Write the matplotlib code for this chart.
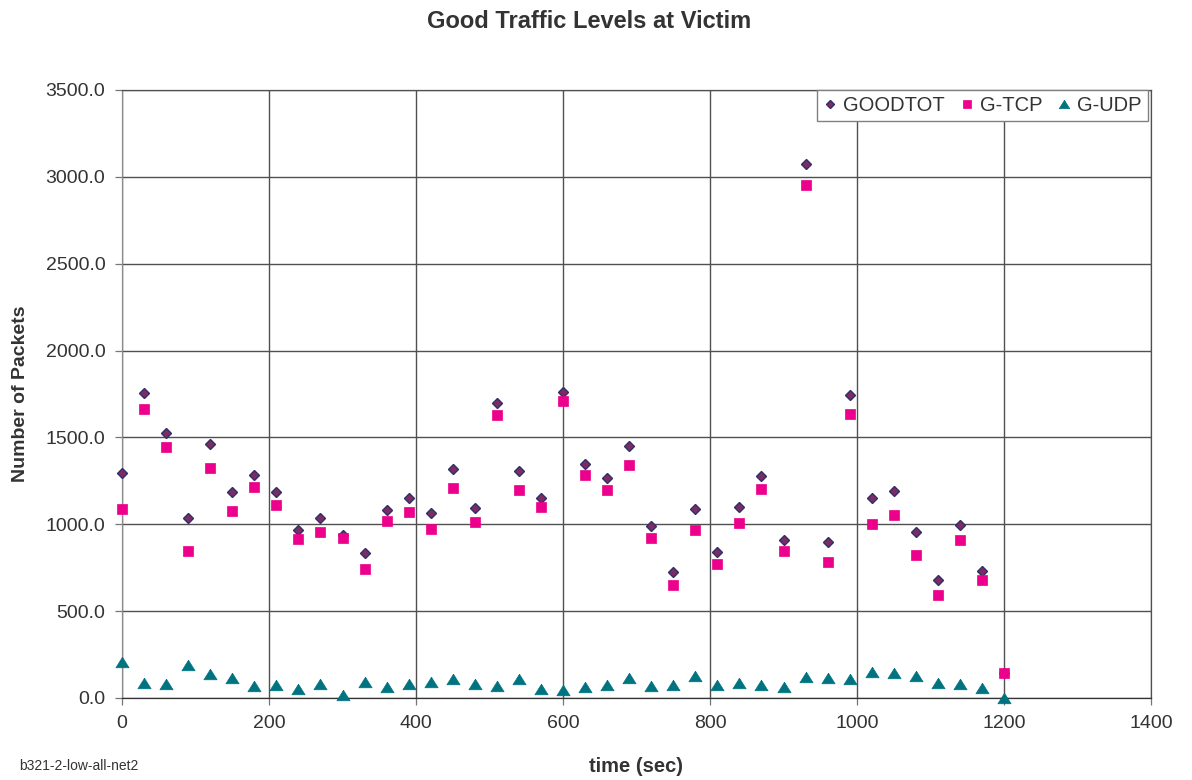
import matplotlib
matplotlib.use("Agg")
import matplotlib.pyplot as plt

plt.rcParams['font.family'] = ['Liberation Sans', 'DejaVu Sans']

# sample times (sec)
time_sec = [0, 30, 60, 90, 120, 150, 180, 210, 240, 270, 300, 330, 360, 390,
            420, 450, 480, 510, 540, 570, 600, 630, 660, 690, 720, 750, 780,
            810, 840, 870, 900, 930, 960, 990, 1020, 1050, 1080, 1110, 1140,
            1170, 1200]

goodtot = [1297, 1753, 1523, 1034, 1464, 1188, 1282, 1188, 967, 1038, 937,
           837, 1084, 1151, 1067, 1320, 1094, 1699, 1308, 1149, 1759, 1347,
           1268, 1450, 989, 726, 1090, 843, 1098, 1278, 910, 3072, 900, 1743,
           1151, 1194, 955, 681, 994, 732, 143]

g_tcp = [1090, 1665, 1443, 847, 1326, 1075, 1215, 1113, 914, 954, 921, 743,
         1021, 1069, 975, 1211, 1011, 1630, 1199, 1100, 1711, 1284, 1195, 1343,
         923, 651, 969, 772, 1010, 1205, 849, 2951, 785, 1632, 1000, 1051, 826,
         591, 911, 677, 143]

g_udp = [207, 86, 82, 190, 138, 115, 67, 75, 54, 82, 15, 94, 63, 82, 92, 111,
         82, 71, 109, 54, 48, 65, 75, 113, 67, 77, 125, 73, 88, 73, 62, 121,
         115, 109, 149, 143, 128, 87, 81, 55, 0]

x_ticks = [0, 200, 400, 600, 800, 1000, 1200, 1400]
y_ticks = [0, 500, 1000, 1500, 2000, 2500, 3000, 3500]

text_col = '#333333'
grid_col = '#505050'

fig = plt.figure(figsize=(11.92, 7.8), dpi=100)
ax = fig.add_axes([122 / 1192, 1 - 698 / 780, 1029 / 1192, 608 / 780])

# flattened triangle like the spreadsheet marker
tri = [(0, 0.8), (-1, -0.8), (1, -0.8), (0, 0.8)]

ax.plot(time_sec, goodtot, linestyle='none', marker='D', ms=5.2,
        mfc='#7b2d62', mec='#2f2f6b', mew=1.0, label='GOODTOT',
        clip_on=False, zorder=3)
ax.plot(time_sec, g_tcp, linestyle='none', marker='s', ms=7,
        mfc='#ec008c', mec='#ec008c', mew=0.5, label='G-TCP',
        clip_on=False, zorder=4)
ax.plot(time_sec, g_udp, linestyle='none', marker=tri, ms=9.5,
        mfc='#007380', mec='#007380', mew=0.5, label='G-UDP',
        clip_on=False, zorder=5)

ax.set_xlim(0, 1400)
ax.set_ylim(0, 3500)
ax.set_xticks(x_ticks)
ax.set_yticks(y_ticks)
ax.set_yticklabels([f"{v:.1f}" for v in y_ticks])
ax.grid(True, color=grid_col, linewidth=1.0)
ax.set_axisbelow(True)

ax.tick_params(axis='both', direction='out', length=5, width=0.9,
               colors='#777777', labelcolor=text_col, labelsize=14, pad=7)
ax.spines['left'].set_color('#8c8c8c')
ax.spines['bottom'].set_color('#333333')
ax.spines['top'].set_color(grid_col)
ax.spines['right'].set_color(grid_col)
for sp in ax.spines.values():
    sp.set_linewidth(0.9)

leg = ax.legend(loc='upper right', bbox_to_anchor=(0.997, 1.0), ncol=3,
                fontsize=14.5, frameon=True, fancybox=False, framealpha=1,
                edgecolor='#808080', borderaxespad=0, borderpad=0.3,
                handlelength=0.6, handletextpad=0.35, columnspacing=0.8,
                markerscale=0.8)
leg.get_frame().set_linewidth(1.0)
for t in leg.get_texts():
    t.set_color(text_col)

fig.text(589 / 1192, 1 - 21 / 780, 'Good Traffic Levels at Victim',
         ha='center', va='center', fontsize=17, fontweight='bold', color=text_col)
fig.text(636 / 1192, 1 - 766 / 780, 'time (sec)', ha='center', va='center',
         fontsize=14.5, fontweight='bold', color=text_col)
fig.text(21 / 1192, 1 - 394 / 780, 'Number of Packets', ha='center',
         va='center', rotation=90, fontsize=14, fontweight='bold', color=text_col)
fig.text(19 / 1192, 1 - 766 / 780, 'b321-2-low-all-net2', ha='left',
         va='center', fontsize=10, color=text_col)

fig.savefig('out.png', dpi=100)
